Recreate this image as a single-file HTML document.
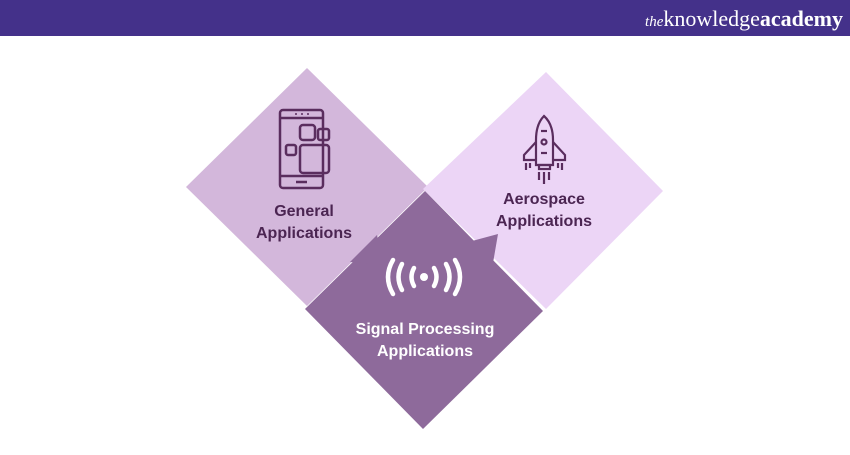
<!DOCTYPE html>
<html><head><style>
body{margin:0;width:850px;height:450px;background:#fff;overflow:hidden;font-family:"Liberation Sans",sans-serif}
</style></head><body>
<svg width="850" height="450" xmlns="http://www.w3.org/2000/svg">
<rect x="0" y="0" width="850" height="36" fill="#44318a"/>
<text x="843" y="26" text-anchor="end" font-family="Liberation Serif,serif" font-size="22" fill="#fff"><tspan font-style="italic" font-size="15">the</tspan>knowledge<tspan font-weight="bold">academy</tspan></text>
<polygon points="307,68 428,187 307,306 186,187" fill="#d3b7db"/>
<polygon points="546,72 663,191 546,309 423,189" fill="#ecd5f6"/>
<polygon points="425,191 543,311 423,429 305,309" fill="#8e6a9b"/>
<polygon points="350,262 377,235 383,265" fill="#8e6a9b"/>
<polygon points="472,241 498,234 493,263" fill="#8e6a9b"/>
<!-- phone icon -->
<g fill="none" stroke="#5a2d5e" stroke-width="2.5">
<rect x="280" y="110" width="43" height="78" rx="3"/>
<line x1="280" y1="118" x2="323" y2="118"/><line x1="280" y1="176" x2="323" y2="176"/>
<line x1="296" y1="182" x2="307" y2="182"/>
<rect x="300" y="125" width="15" height="15" rx="3"/>
<rect x="318" y="129" width="11" height="11" rx="2"/>
<rect x="286" y="145" width="10" height="10" rx="2"/>
<rect x="300" y="145" width="29" height="28" rx="3"/>
</g>
<g fill="#5a2d5e"><circle cx="296" cy="114" r="1"/><circle cx="302" cy="114" r="1"/><circle cx="308" cy="114" r="1"/></g>
<!-- rocket -->
<g fill="none" stroke="#5a2d5e" stroke-width="2.2">
<path d="M544,116 Q536,124 536,140 L536,165 L553,165 L553,140 Q553,124 544,116 Z"/>
<path d="M536,142 L524,155 L524,160 L536,160 M553,142 L565,155 L565,160 L553,160"/>
<circle cx="544" cy="142" r="2.5"/>
<line x1="541" y1="131" x2="547" y2="131"/><line x1="541" y1="153" x2="547" y2="153"/>
<rect x="539" y="165" width="11" height="4"/>
<line x1="544" y1="172" x2="544" y2="184"/><line x1="539" y1="172" x2="539" y2="180"/><line x1="549" y1="172" x2="549" y2="180"/>
<line x1="526" y1="163" x2="526" y2="170"/><line x1="530" y1="163" x2="530" y2="168"/>
<line x1="558" y1="163" x2="558" y2="168"/><line x1="562" y1="163" x2="562" y2="170"/>
</g>
<!-- signal -->
<g fill="none" stroke="#fff" stroke-width="4.5" stroke-linecap="round">
<path d="M402,264 Q395,277 402,290"/><path d="M414,268 Q409,277 414,286"/>
<path d="M446,264 Q453,277 446,290"/><path d="M434,268 Q439,277 434,286"/>
<path d="M393,260 Q383,277 393,294"/><path d="M455,260 Q465,277 455,294"/>
</g>
<circle cx="424" cy="277" r="4" fill="#fff"/>
<g font-size="16" font-weight="bold" text-anchor="middle" fill="#4b2552">
<text x="304" y="216">General</text><text x="304" y="238">Applications</text>
<text x="544" y="204">Aerospace</text><text x="544" y="226">Applications</text>
</g>
<g font-size="16" text-anchor="middle" fill="#fff" font-weight="bold">
<text x="425" y="334">Signal Processing</text><text x="425" y="356">Applications</text>
</g>
</svg>
</body></html>
